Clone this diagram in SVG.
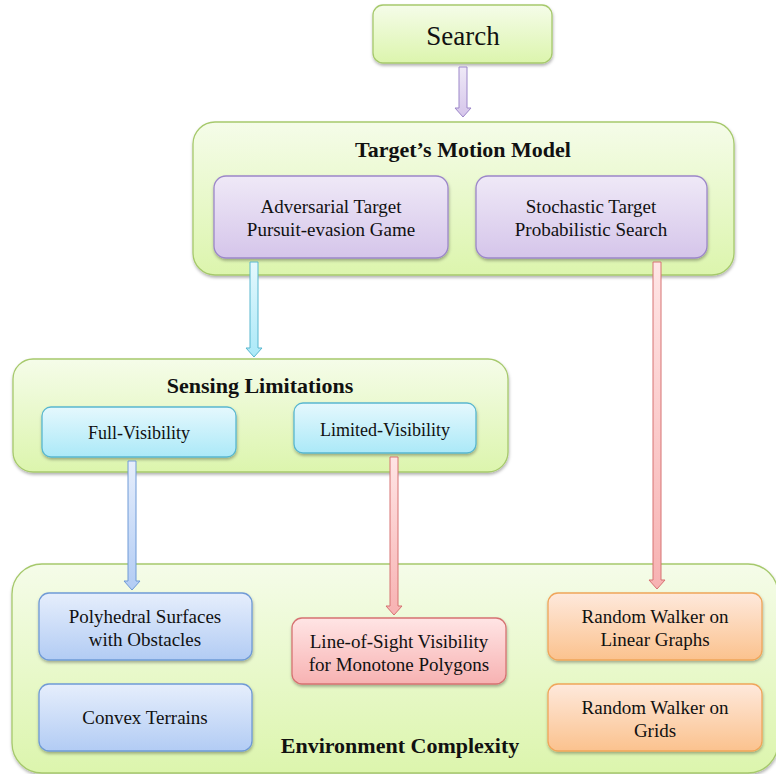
<svg xmlns="http://www.w3.org/2000/svg" width="776" height="774" viewBox="0 0 776 774" font-family="'Liberation Serif', 'Times New Roman', 'DejaVu Serif', serif">
<defs>
<linearGradient id="gGreen" x1="0" y1="0" x2="0" y2="1"><stop offset="0" stop-color="#f5fce9"/><stop offset="1" stop-color="#dcf5ad"/></linearGradient>
<linearGradient id="gPurple" x1="0" y1="0" x2="0" y2="1"><stop offset="0" stop-color="#efe9f7"/><stop offset="1" stop-color="#d5c5ea"/></linearGradient>
<linearGradient id="gCyan" x1="0" y1="0" x2="0" y2="1"><stop offset="0" stop-color="#e5f8fd"/><stop offset="1" stop-color="#abe9f8"/></linearGradient>
<linearGradient id="gBlue" x1="0" y1="0" x2="0" y2="1"><stop offset="0" stop-color="#e6eefc"/><stop offset="1" stop-color="#b2ccf4"/></linearGradient>
<linearGradient id="gRed" x1="0" y1="0" x2="0" y2="1"><stop offset="0" stop-color="#ffe5e5"/><stop offset="1" stop-color="#f7b2b2"/></linearGradient>
<linearGradient id="gOrange" x1="0" y1="0" x2="0" y2="1"><stop offset="0" stop-color="#fee9dc"/><stop offset="1" stop-color="#fbc28e"/></linearGradient>
<filter id="sh" x="-10%" y="-10%" width="120%" height="130%"><feDropShadow dx="0.5" dy="2" stdDeviation="1.5" flood-color="#000" flood-opacity="0.3"/></filter>
<style>
.outer{fill:url(#gGreen);stroke:#a6c96c;stroke-width:1.3;filter:url(#sh)}
.green{fill:url(#gGreen);stroke:#a6c96c;stroke-width:1.3;filter:url(#sh)}
.purple{fill:url(#gPurple);stroke:#9c87c9;stroke-width:1.3;filter:url(#sh)}
.cyan{fill:url(#gCyan);stroke:#58b7cf;stroke-width:1.3;filter:url(#sh)}
.blue{fill:url(#gBlue);stroke:#6f9ad6;stroke-width:1.3;filter:url(#sh)}
.red{fill:url(#gRed);stroke:#d67272;stroke-width:1.3;filter:url(#sh)}
.orange{fill:url(#gOrange);stroke:#f0a55a;stroke-width:1.3;filter:url(#sh)}
text{font-family:"Liberation Serif","Times New Roman","DejaVu Serif",serif;fill:#111;text-anchor:middle}
.t{font-size:19px;font-family:"Liberation Serif","Times New Roman","DejaVu Serif",serif}
.title{font-size:22px;font-weight:bold}
.aP{fill:url(#gPurple);stroke:#9c87c9;stroke-width:1}
.aC{fill:url(#gCyan);stroke:#58b7cf;stroke-width:1}
.aB{fill:url(#gBlue);stroke:#6f9ad6;stroke-width:1}
.aR{fill:url(#gRed);stroke:#d67272;stroke-width:1}
</style>
</defs>
<rect width="776" height="774" fill="#fff"/>

<g id="target-motion-model">
<rect class="outer" x="193" y="122" width="541" height="153" rx="22"/>
<text class="title" x="463" y="157">Target’s Motion Model</text>
</g>
<g id="sensing-limitations">
<rect class="outer" x="13" y="359" width="495" height="113" rx="20"/>
<text class="title" x="260" y="393">Sensing Limitations</text>
</g>
<g id="environment-complexity">
<rect class="outer" x="12" y="564" width="766" height="209" rx="30"/>
<text class="title" x="400" y="753">Environment Complexity</text>
</g>

<g id="search">
<rect class="green" x="373" y="5" width="179" height="58" rx="10"/>
<text class="t" x="463" y="45" font-size="27" style="font-size:27px">Search</text>
</g>
<g id="adversarial">
<rect class="purple" x="214" y="176" width="234" height="82" rx="12"/>
<text class="t" x="331" y="213">Adversarial Target</text>
<text class="t" x="331" y="236">Pursuit-evasion Game</text>
</g>
<g id="stochastic">
<rect class="purple" x="476" y="176" width="231" height="82" rx="12"/>
<text class="t" x="591" y="213">Stochastic Target</text>
<text class="t" x="591" y="236">Probabilistic Search</text>
</g>
<g id="full-visibility">
<rect class="cyan" x="42" y="407" width="194" height="50" rx="9"/>
<text class="t" x="139" y="439" style="font-size:18px">Full-Visibility</text>
</g>
<g id="limited-visibility">
<rect class="cyan" x="294" y="403" width="182" height="50" rx="9"/>
<text class="t" x="385" y="436" style="font-size:18px">Limited-Visibility</text>
</g>
<g id="polyhedral">
<rect class="blue" x="39" y="593" width="213" height="67" rx="10"/>
<text class="t" x="145" y="623">Polyhedral Surfaces</text>
<text class="t" x="145" y="646">with Obstacles</text>
</g>
<g id="convex">
<rect class="blue" x="39" y="684" width="213" height="67" rx="10"/>
<text class="t" x="145" y="724">Convex Terrains</text>
</g>
<g id="line-of-sight">
<rect class="red" x="292" y="618" width="214" height="66" rx="10"/>
<text class="t" x="399" y="648">Line-of-Sight Visibility</text>
<text class="t" x="399" y="671">for Monotone Polygons</text>
</g>
<g id="rw-linear">
<rect class="orange" x="548" y="593" width="214" height="67" rx="10"/>
<text class="t" x="655" y="623">Random Walker on</text>
<text class="t" x="655" y="646">Linear Graphs</text>
</g>
<g id="rw-grids">
<rect class="orange" x="548" y="684" width="214" height="67" rx="10"/>
<text class="t" x="655" y="714">Random Walker on</text>
<text class="t" x="655" y="737">Grids</text>
</g>

<g id="connectors">
<path class="aP" d="M459 67 H467 V108 H471 L463 117 L455 108 H459 Z"/>
<path class="aC" d="M250 262 H258 V348 H262 L254 357 L246 348 H250 Z"/>
<path class="aR" d="M653 262 H661 V580 H665 L657 589 L649 580 H653 Z"/>
<path class="aB" d="M128 461 H136 V581 H140 L132 590 L124 581 H128 Z"/>
<path class="aR" d="M390 457 H398 V606 H402 L394 615 L386 606 H390 Z"/>
</g>
</svg>
